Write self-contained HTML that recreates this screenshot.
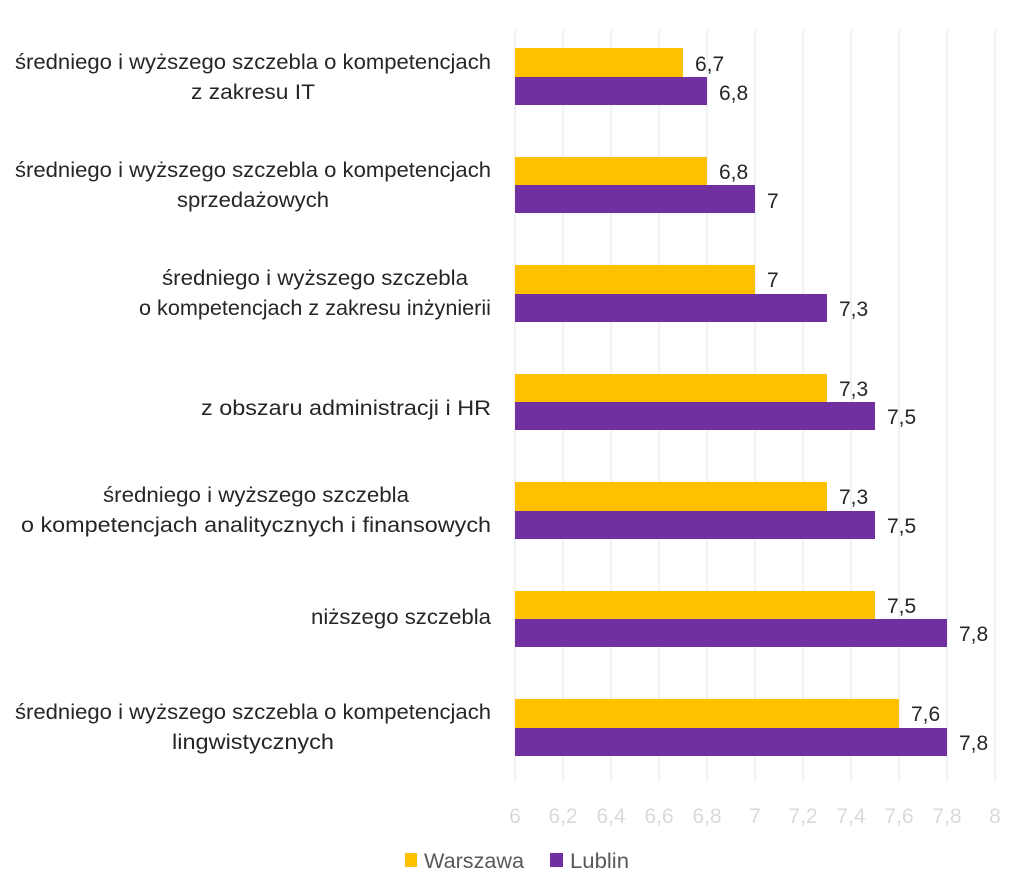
<!DOCTYPE html>
<html><head><meta charset="utf-8"><style>
body{margin:0;background:#fff}
svg{display:block}
text{font-family:"Liberation Sans",sans-serif;font-size:20px;fill:#262626}
.l{font-size:21px}
.v{font-size:21px}
.t{fill:#d9d9d9;font-size:21px}
</style></head><body>
<svg width="1024" height="895" xmlns="http://www.w3.org/2000/svg">
<g stroke="#e6e6e6" stroke-width="1">
<line x1="515" y1="30" x2="515" y2="782"/><line x1="563" y1="30" x2="563" y2="782"/><line x1="611" y1="30" x2="611" y2="782"/><line x1="659" y1="30" x2="659" y2="782"/><line x1="707" y1="30" x2="707" y2="782"/><line x1="755" y1="30" x2="755" y2="782"/><line x1="803" y1="30" x2="803" y2="782"/><line x1="851" y1="30" x2="851" y2="782"/><line x1="899" y1="30" x2="899" y2="782"/><line x1="947" y1="30" x2="947" y2="782"/><line x1="995" y1="30" x2="995" y2="782"/>
</g>
<g>
<rect x="515" y="48" width="168" height="29" fill="#ffc000"/><rect x="515" y="77" width="192" height="28" fill="#7030a0"/>
<rect x="515" y="157" width="192" height="28" fill="#ffc000"/><rect x="515" y="185" width="240" height="28" fill="#7030a0"/>
<rect x="515" y="265" width="240" height="29" fill="#ffc000"/><rect x="515" y="294" width="312" height="28" fill="#7030a0"/>
<rect x="515" y="374" width="312" height="28" fill="#ffc000"/><rect x="515" y="402" width="360" height="28" fill="#7030a0"/>
<rect x="515" y="482" width="312" height="29" fill="#ffc000"/><rect x="515" y="511" width="360" height="28" fill="#7030a0"/>
<rect x="515" y="591" width="360" height="28" fill="#ffc000"/><rect x="515" y="619" width="432" height="28" fill="#7030a0"/>
<rect x="515" y="699" width="384" height="29" fill="#ffc000"/><rect x="515" y="728" width="432" height="28" fill="#7030a0"/>
</g>
<g>
<text class="v" x="695" y="71">6,7</text><text class="v" x="719" y="100">6,8</text>
<text class="v" x="719" y="179">6,8</text><text class="v" x="767" y="208">7</text>
<text class="v" x="767" y="287">7</text><text class="v" x="839" y="316">7,3</text>
<text class="v" x="839" y="396">7,3</text><text class="v" x="887" y="424">7,5</text>
<text class="v" x="839" y="504">7,3</text><text class="v" x="887" y="533">7,5</text>
<text class="v" x="887" y="613">7,5</text><text class="v" x="959" y="641">7,8</text>
<text class="v" x="911" y="721">7,6</text><text class="v" x="959" y="750">7,8</text>
</g>
<g text-anchor="middle">
<text class="l" x="253" y="69" textLength="476" lengthAdjust="spacingAndGlyphs">średniego i wyższego szczebla o kompetencjach</text>
<text class="l" x="253" y="99" textLength="124" lengthAdjust="spacingAndGlyphs">z zakresu IT</text>
<text class="l" x="253" y="177" textLength="476" lengthAdjust="spacingAndGlyphs">średniego i wyższego szczebla o kompetencjach</text>
<text class="l" x="253" y="207" textLength="152" lengthAdjust="spacingAndGlyphs">sprzedażowych</text>
<text class="l" x="315" y="285" textLength="306" lengthAdjust="spacingAndGlyphs">średniego i wyższego szczebla</text>
<text class="l" x="315" y="315" textLength="352" lengthAdjust="spacingAndGlyphs">o kompetencjach z zakresu inżynierii</text>
<text class="l" x="256" y="502" textLength="306" lengthAdjust="spacingAndGlyphs">średniego i wyższego szczebla</text>
<text class="l" x="256" y="532" textLength="470" lengthAdjust="spacingAndGlyphs">o kompetencjach analitycznych i finansowych</text>
<text class="l" x="253" y="719" textLength="476" lengthAdjust="spacingAndGlyphs">średniego i wyższego szczebla o kompetencjach</text>
<text class="l" x="253" y="749" textLength="162" lengthAdjust="spacingAndGlyphs">lingwistycznych</text>
</g>
<g text-anchor="end">
<text class="l" x="491" y="415" textLength="290" lengthAdjust="spacingAndGlyphs">z obszaru administracji i HR</text>
<text class="l" x="491" y="624" textLength="180" lengthAdjust="spacingAndGlyphs">niższego szczebla</text>
</g>
<g text-anchor="middle">
<text class="t" x="515" y="823">6</text><text class="t" x="563" y="823">6,2</text><text class="t" x="611" y="823">6,4</text><text class="t" x="659" y="823">6,6</text><text class="t" x="707" y="823">6,8</text><text class="t" x="755" y="823">7</text><text class="t" x="803" y="823">7,2</text><text class="t" x="851" y="823">7,4</text><text class="t" x="899" y="823">7,6</text><text class="t" x="947" y="823">7,8</text><text class="t" x="995" y="823">8</text>
</g>
<rect x="405" y="853" width="12" height="14" fill="#ffc000"/>
<text x="424" y="868" style="fill:#595959;font-size:21px" textLength="100" lengthAdjust="spacingAndGlyphs">Warszawa</text>
<rect x="550" y="853" width="13" height="14" fill="#7030a0"/>
<text x="570" y="868" style="fill:#595959;font-size:21px" textLength="59" lengthAdjust="spacingAndGlyphs">Lublin</text>
</svg>
</body></html>
